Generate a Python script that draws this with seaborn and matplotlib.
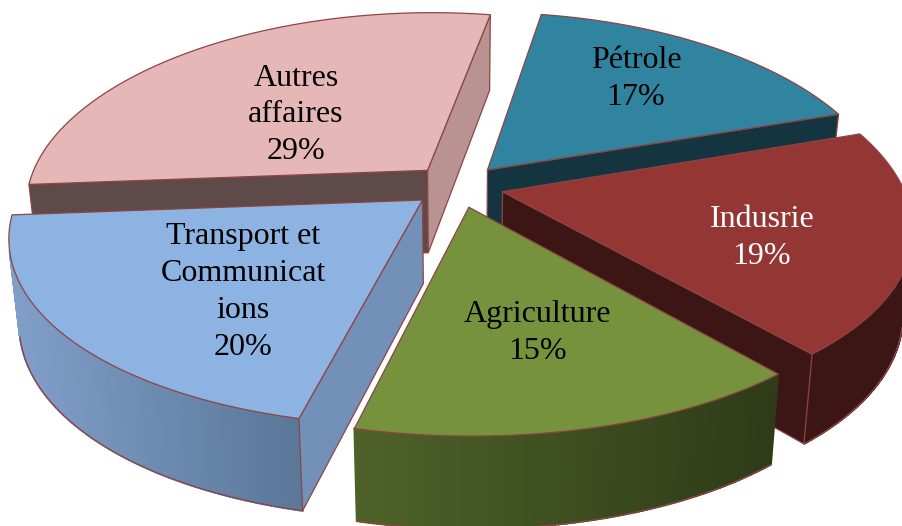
import numpy as np
import matplotlib
matplotlib.use("Agg")
import matplotlib.pyplot as plt
from matplotlib.patches import Polygon
import seaborn as sns

# --- data ---
categories = ["Pétrole", "Indusrie", "Agriculture", "Transport et\nCommunicat\nions", "Autres\naffaires"]
values = [17, 19, 15, 20, 29]

# --- styles ---
top_colors = ["#31849F", "#943634", "#76923C", "#8DB3E2", "#E5B8B7"]
rim_left = ["#143540", "#3B1614", "#4D6228", "#819FC9", "#5E4A48"]
rim_right = ["#143540", "#3B1614", "#2E3A18", "#5A7799", "#5E4A48"]
start_face = ["#143540", "#3B1614", "#3B4C20", "#7391B8", "#5E4A48"]
end_face = ["#143540", "#3B1614", "#3B4C20", "#7391B8", "#B89392"]
text_colors = ["black", "white", "black", "black", "black"]
label_xy = [(636, 79), (762, 238), (538, 333), (243, 292), (296, 115)]
draw_order = [4, 0, 1, 3, 2]
edge = "#8E4444"

START = 10.0       # degrees clockwise from the back
EXPLODE = 0.115
CX, CY = 458.0, 186.0
A, B, P, PX = 400.0, 186.4, 0.154, 0.18
DEPTH = 83.0
CONVERGE = 0.977   # lower rim narrows toward the centre

sns.set_theme(style="white")
plt.rcParams["font.family"] = ["Liberation Serif", "DejaVu Serif"]

fig, ax = plt.subplots(figsize=(9.02, 5.26), dpi=100)
ax.set_position([0, 0, 1, 1])
ax.set_xlim(0, 902)
ax.set_ylim(526, 0)
ax.axis("off")


def project(X, Y):
    w = 1.0 / (1.0 + P * Y)
    wx = 1.0 / (1.0 + PX * Y)
    return np.array([CX + A * X * wx, CY - B * Y * w]), w


def extrude(pt, w):
    return np.array([CX + (pt[0] - CX) * CONVERGE, pt[1] + DEPTH * w ** 0.6])


def signed_area(q):
    x, y = q[:, 0], q[:, 1]
    return np.sum(x * np.roll(y, -1) - np.roll(x, -1) * y)


fractions = np.array(values, dtype=float) / sum(values)
bounds = np.radians(START + 360.0 * np.concatenate([[0], np.cumsum(fractions)]))

for i in draw_order:
    a0, a1 = bounds[i], bounds[i + 1]
    mid = (a0 + a1) / 2
    ox, oy = EXPLODE * np.sin(mid), EXPLODE * np.cos(mid)
    n = max(int(np.degrees(a1 - a0)), 2) * 2
    th = np.linspace(a0, a1, n + 1)
    loop = [(ox, oy)] + [(ox + np.sin(t), oy + np.cos(t)) for t in th]
    tops, bots = [], []
    for X, Y in loop:
        p, w = project(X, Y)
        tops.append(p)
        bots.append(extrude(p, w))
    tops, bots = np.array(tops), np.array(bots)

    # horizontal gradient along the outer wall
    rim_x = tops[1:, 0]
    pal = sns.blend_palette([rim_left[i], rim_right[i]], 64)
    xmin, xmax = rim_x.min(), rim_x.max()

    for k in range(1, n + 1):
        q = np.array([tops[k], tops[k + 1], bots[k + 1], bots[k]])
        if signed_area(q) < 0:
            t = ((q[:, 0].mean() - xmin) / max(xmax - xmin, 1))
            c = pal[int(np.clip(t, 0, 1) * 63)]
            ax.add_patch(Polygon(q, closed=True, facecolor=c, edgecolor=c, lw=1.4, zorder=len(ax.patches)))

    for k in range(1, n + 1):
        q = np.array([tops[k], tops[k + 1], bots[k + 1], bots[k]])
        if signed_area(q) < 0:
            ax.plot([bots[k, 0], bots[k + 1, 0]], [bots[k, 1], bots[k + 1, 1]],
                    color=edge, lw=0.9, zorder=len(ax.patches), solid_capstyle="round")

    # the two cut faces
    q_start = np.array([tops[0], tops[1], bots[1], bots[0]])
    q_end = np.array([tops[-1], tops[0], bots[0], bots[-1]])
    for q, c in ((q_start, start_face[i]), (q_end, end_face[i])):
        if signed_area(q) < 0:
            ax.add_patch(Polygon(q, closed=True, facecolor=c, edgecolor=edge, lw=0.9,
                                 joinstyle="round", zorder=len(ax.patches) + 1))

    ax.add_patch(Polygon(tops, closed=True, facecolor=top_colors[i], edgecolor=edge, lw=0.9,
                         joinstyle="round", zorder=len(ax.patches) + 1))

for name, v, (x, y), c in zip(categories, values, label_xy, text_colors):
    ax.text(x, y, f"{name}\n{v}%", ha="center", va="center", color=c, fontsize=23,
            linespacing=1.36, zorder=1000)

fig.savefig("out.png", dpi=100)
